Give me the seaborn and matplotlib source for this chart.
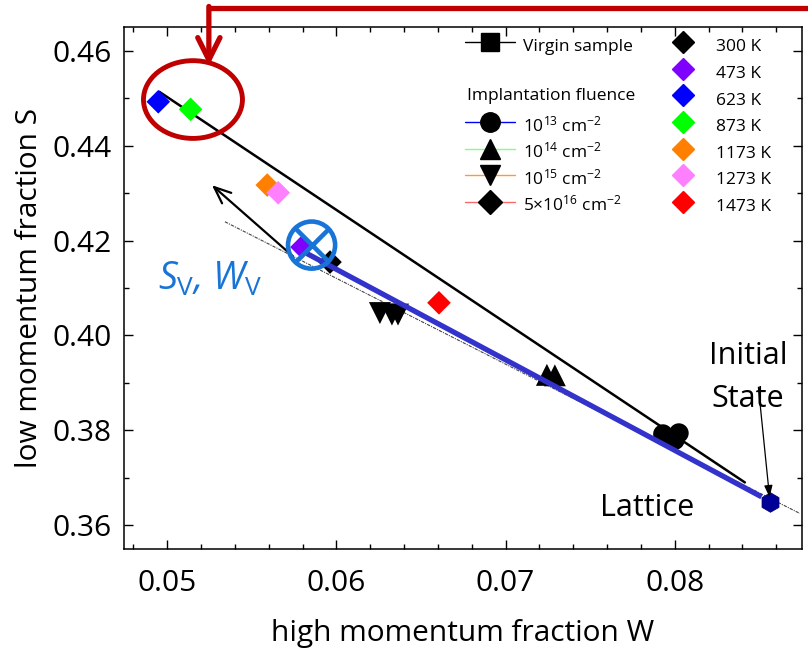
import numpy as np
import pandas as pd
import seaborn as sns
from matplotlib import pyplot as plt
from matplotlib.lines import Line2D
from matplotlib.patches import Ellipse

# annealing temperatures (5e16 cm^-2 sample)
temps = ['300 K', '473 K', '623 K', '873 K', '1173 K', '1273 K', '1473 K']
temp_colors = ['#000000', '#8000ff', '#0000ff', '#00ff00', '#ff8000', '#ff80ff', '#ff0000']
ann_W = [0.05962, 0.05796, 0.04947, 0.05138, 0.05591, 0.05656, 0.06606]
ann_S = [0.41549, 0.41865, 0.44930, 0.44770, 0.43173, 0.43011, 0.40690]

# as-implanted samples for each fluence
f13_W = [0.07930, 0.08024, 0.08000]
f13_S = [0.37920, 0.37941, 0.37793]
f14_W = [0.07244, 0.07291]
f14_S = [0.39170, 0.39160]
f15_W = [0.06257, 0.06328, 0.06364]
f15_S = [0.40473, 0.40441, 0.40441]
f16_W = [0.05962]
f16_S = [0.41549]

# virgin sample / lattice
virgin_W = [0.0856]
virgin_S = [0.3649]

# vacancy point S_V, W_V
vac_W = [0.05853]
vac_S = [0.41907]

# guide lines
black_line_W = [0.04953, 0.08414]
black_line_S = [0.45141, 0.36901]
blue_line_W = [0.05824, 0.08513]
blue_line_S = [0.41732, 0.36597]
dot_line_W = [0.05341, 0.08739]
dot_line_S = [0.42399, 0.36247]

fluence_labels = ['10$^{13}$ cm$^{-2}$', '10$^{14}$ cm$^{-2}$',
                  '10$^{15}$ cm$^{-2}$', '5×10$^{16}$ cm$^{-2}$']
fluence_line_colors = ['#0000ff', '#80ff80', '#ff9933', '#ff6666']

sns.set_style('ticks')
plt.rcParams['font.family'] = ['Open Sans', 'DejaVu Sans']
plt.rcParams['mathtext.fontset'] = 'custom'
plt.rcParams['mathtext.rm'] = 'Open Sans'
plt.rcParams['mathtext.it'] = 'Open Sans:italic'
for k in ['text.color', 'axes.labelcolor', 'xtick.color', 'ytick.color', 'axes.edgecolor']:
    plt.rcParams[k] = 'black'

fig = plt.figure(figsize=(8.08, 6.51), dpi=100)
ax = fig.add_axes([0.1538, 0.1562, 0.8384, 0.8018])

# lines
ax.plot(black_line_W, black_line_S, color='k', lw=1.8, zorder=2)
ax.plot(dot_line_W, dot_line_S, color='#444444', lw=0.8,
        linestyle=(0, (3, 1, 1, 1)), zorder=2, clip_on=False)

# markers
df_ann = pd.DataFrame({'W': ann_W, 'S': ann_S, 'T': temps})
sns.scatterplot(data=df_ann, x='W', y='S', hue='T', palette=temp_colors,
                marker='D', s=145, edgecolor='none', legend=False, ax=ax, zorder=3)
sns.scatterplot(x=f13_W, y=f13_S, color='k', marker='o', s=200, edgecolor='none', ax=ax, zorder=3)
sns.scatterplot(x=f14_W, y=f14_S, color='k', marker='^', s=250, edgecolor='none', ax=ax, zorder=3)
sns.scatterplot(x=f15_W, y=f15_S, color='k', marker='v', s=250, edgecolor='none', ax=ax, zorder=3)
sns.scatterplot(x=virgin_W, y=virgin_S, color='#000099', marker='h', s=200,
                edgecolor='#000066', linewidth=0.5, ax=ax, zorder=3)

ax.plot(blue_line_W, blue_line_S, color='#3333cc', lw=3.8, zorder=4, solid_capstyle='butt')

# S_V, W_V marker
ax.scatter(vac_W, vac_S, s=1150, facecolor='none', edgecolor='#1874d6', lw=3.3, zorder=6)
ax.scatter(vac_W, vac_S, s=580, marker='x', color='#1874d6', lw=3.3, zorder=6)
ax.text(0.05252, 0.4117, '$S_{\\mathrm{V}}$, $W_{\\mathrm{V}}$', color='#1874d6',
        fontsize=27, style='italic', ha='center', va='center')

# arrow towards vacancy-type defect
ax.annotate('', xy=(0.05252, 0.43209), xytext=(0.05755, 0.41633),
            arrowprops=dict(arrowstyle='->,head_length=1.2,head_width=0.5', color='k', lw=1.6),
            zorder=5)

# red highlight
ax.add_patch(Ellipse((0.05152, 0.44977), 0.00585, 0.0164, facecolor='none',
                     edgecolor='#c00000', lw=3.5, zorder=5))
ax.plot([0.0885, 0.05246], [0.4691, 0.4691], color='#c00000', lw=3.8,
        clip_on=False, solid_capstyle='butt', zorder=5)
ax.annotate('', xy=(0.05246, 0.4569), xytext=(0.05246, 0.4694),
            arrowprops=dict(arrowstyle='->,head_length=1.6,head_width=0.8',
                            color='#c00000', lw=3.8, shrinkA=0, shrinkB=0),
            annotation_clip=False, zorder=5)

# text annotations
ax.text(0.07835, 0.36359, 'Lattice', fontsize=22, ha='center', va='center')
ax.text(0.08432, 0.3911, 'Initial\nState', fontsize=22, ha='center', va='center',
        linespacing=1.55)
ax.annotate('', xy=(0.0856, 0.3659), xytext=(0.08494, 0.3891),
            arrowprops=dict(arrowstyle='-|>,head_length=0.7,head_width=0.25',
                            color='k', lw=0.9, shrinkA=0, shrinkB=0))

# axes
ax.set_xlim(0.04746, 0.0875)
ax.set_ylim(0.3549, 0.465)
ax.set_xticks([0.05, 0.06, 0.07, 0.08])
ax.set_xticklabels(['0.05', '0.06', '0.07', '0.08'])
ax.set_yticks([0.36, 0.38, 0.40, 0.42, 0.44, 0.46])
ax.set_yticklabels(['0.36', '0.38', '0.40', '0.42', '0.44', '0.46'])
ax.set_xticks(np.arange(0.048, 0.0875, 0.002), minor=True)
ax.set_yticks(np.arange(0.36, 0.465, 0.01), minor=True)
ax.tick_params(which='both', direction='in', top=True, right=True, width=1.0)
ax.tick_params(which='major', length=6.5, labelsize=21.5)
ax.tick_params(which='minor', length=3.5)
ax.tick_params(axis='x', which='major', pad=14)
ax.tick_params(axis='y', which='major', pad=9)
for s in ax.spines.values():
    s.set_linewidth(1.1)
ax.set_xlabel('high momentum fraction W', fontsize=21.5, labelpad=15)
ax.set_ylabel('low momentum fraction S', fontsize=21.5, labelpad=6)

# legend
handles = [Line2D([], [], color='k', lw=1, marker='s', ms=13),
           Line2D([], [], linestyle='none'),
           Line2D([], [], linestyle='none')]
labels = ['Virgin sample', ' ', ' ']
for m, c, lab, ms in zip(['o', '^', 'v', 'D'], fluence_line_colors, fluence_labels,
                         [14, 15, 15, 12.5]):
    handles.append(Line2D([], [], color=c, lw=1, marker=m, ms=ms, mfc='k', mec='k'))
    labels.append(lab)
for c, t in zip(temp_colors, temps):
    handles.append(Line2D([], [], linestyle='none', marker='D', ms=11.5, mfc=c, mec=c))
    labels.append(t)
leg = ax.legend(handles, labels, ncol=2, loc='upper left', bbox_to_anchor=(0.503, 0.989),
                frameon=False, fontsize=12.5, handlelength=2.9, handleheight=1.9,
                handletextpad=0.45, columnspacing=1.45, labelspacing=0.05,
                borderpad=0, borderaxespad=0)
ax.text(0.5055, 0.8684, 'Implantation fluence', transform=ax.transAxes,
        fontsize=12.5, ha='left', va='center')

fig.savefig('out.png', dpi=100)
